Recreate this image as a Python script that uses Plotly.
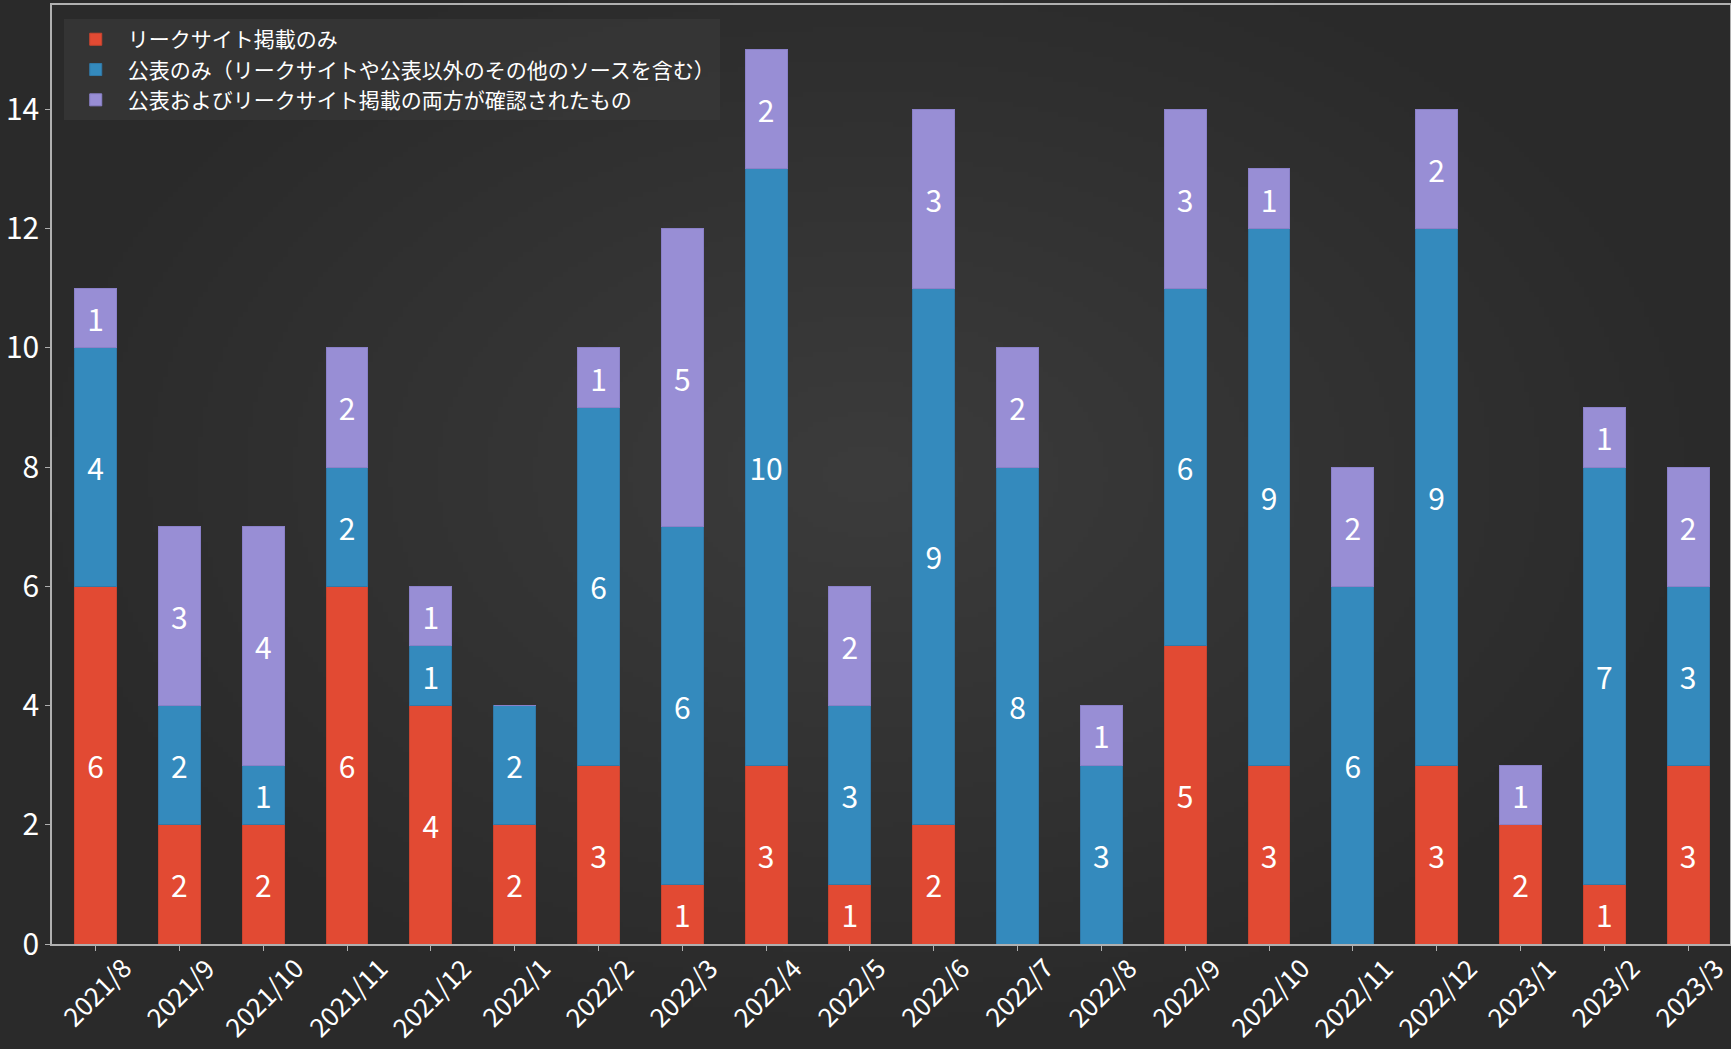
import base64, struct, zlib
import numpy as np
import plotly.graph_objects as go

months = ["2021/8", "2021/9", "2021/10", "2021/11", "2021/12", "2022/1", "2022/2",
          "2022/3", "2022/4", "2022/5", "2022/6", "2022/7", "2022/8", "2022/9",
          "2022/10", "2022/11", "2022/12", "2023/1", "2023/2", "2023/3"]
leak_only = [6, 2, 2, 6, 4, 2, 3, 1, 3, 1, 2, 0, 0, 5, 3, 0, 3, 2, 1, 3]
public_only = [4, 2, 1, 2, 1, 2, 6, 6, 10, 3, 9, 8, 3, 6, 9, 6, 9, 0, 7, 3]
both = [1, 3, 4, 2, 1, 0, 1, 5, 2, 2, 3, 2, 1, 3, 1, 2, 2, 1, 1, 2]

names = ["リークサイト掲載のみ",
         "公表のみ（リークサイトや公表以外のその他のソースを含む）",
         "公表およびリークサイト掲載の両方が確認されたもの"]
colors = ["#E24A33", "#348ABD", "#988ED5"]
edge = ["#c9442f", "#3179a8", "#8a80c8"]

W, H = 1731, 1049
L, R, T, B = 52, 1, 5, 105

# radial gradient background image (styling only)
def make_png(w, h):
    yy, xx = np.mgrid[0:h, 0:w]
    cx, cy = w * 0.5, h * 0.45
    d = np.sqrt(((xx - cx) / (w * 0.5)) ** 2 + ((yy - cy) / (h * 0.55)) ** 2)
    d = np.clip(d, 0, 1)
    v = (60 - 18 * d).astype(np.uint8)
    raw = b"".join(b"\x00" + bytes(np.stack([row, row, row], axis=1).flatten()) for row in v)
    def chunk(t, data):
        c = struct.pack(">I", len(data)) + t + data
        return c + struct.pack(">I", zlib.crc32(t + data) & 0xffffffff)
    png = b"\x89PNG\r\n\x1a\n" + chunk(b"IHDR", struct.pack(">IIBBBBB", w, h, 8, 2, 0, 0, 0))
    png += chunk(b"IDAT", zlib.compress(raw, 9)) + chunk(b"IEND", b"")
    return "data:image/png;base64," + base64.b64encode(png).decode()

bg = make_png(346, 210)

fig = go.Figure()
for vals, name, col, ec in zip([leak_only, public_only, both], names, colors, edge):
    fig.add_trace(go.Bar(
        x=months, y=vals, name=name,
        marker=dict(color=col, line=dict(color=ec, width=1)),
        width=0.5,
        text=[str(v) if v else "" for v in vals],
        textposition="inside", insidetextanchor="middle", textangle=0,
        constraintext="none",
        textfont=dict(color="white", size=30, family="Noto Sans CJK JP"),
        hoverinfo="skip",
    ))

# rotated category labels centred under each tick (matplotlib-style)
for m in months:
    fig.add_annotation(x=m, xref="x", y=0, yref="paper", yshift=-4,
                       text=m, showarrow=False, textangle=-45, borderpad=0,
                       xanchor="center", yanchor="top",
                       font=dict(size=26, color="white", family="Noto Sans CJK JP"))

pw, ph = W - L - R, H - T - B
fig.add_layout_image(dict(
    source=bg, xref="paper", yref="paper",
    x=-L / pw, y=1 + T / ph, sizex=W / pw, sizey=H / ph,
    sizing="stretch", layer="below", xanchor="left", yanchor="top",
))

axis_col = "#b0b0b0"
fig.update_layout(
    width=W, height=H, barmode="stack",
    margin=dict(l=L, r=R, t=T, b=B, autoexpand=False),
    paper_bgcolor="#2e2e2e", plot_bgcolor="rgba(0,0,0,0)",
    font=dict(family="Noto Sans CJK JP", color="white"),
    showlegend=True,
    legend=dict(x=0.007, y=0.985, xanchor="left", yanchor="top",
                bgcolor="rgba(60,60,60,0.55)", borderwidth=0,
                font=dict(size=21, color="white"), traceorder="normal",
                itemwidth=54, tracegroupgap=6),
    xaxis=dict(range=[-0.52, 19.5], showticklabels=False, showgrid=False, automargin=False,
               showline=True, linecolor=axis_col, linewidth=1.5, mirror=True,
               ticks="outside", ticklen=5, tickcolor=axis_col),
    yaxis=dict(range=[0, 15.75], dtick=2, showgrid=False, zeroline=False, automargin=False,
               showline=True, linecolor=axis_col, linewidth=1.5, mirror=True,
               ticks="outside", ticklen=5, tickcolor=axis_col,
               tickfont=dict(size=30, color="white")),
)

fig.write_html("out.html", config={"displayModeBar": False},
               post_script="document.body.style.margin='0';document.body.style.overflow='hidden';")
